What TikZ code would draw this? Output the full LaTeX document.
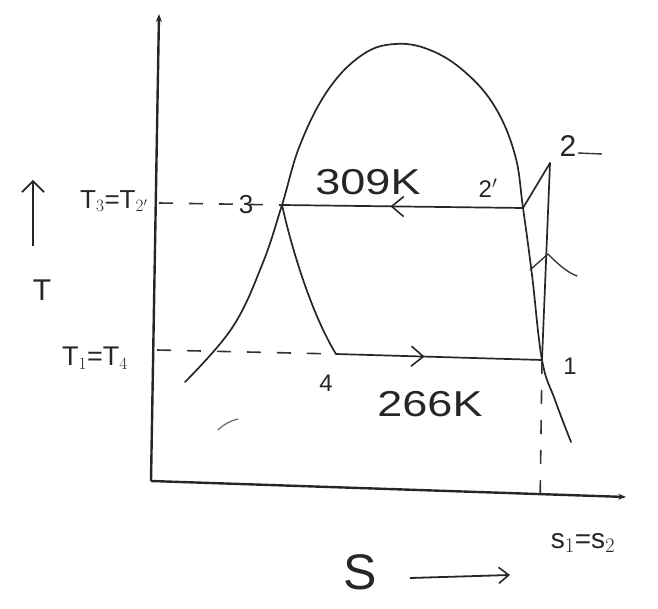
\documentclass[tikz,border=0pt]{standalone}
\usepackage{fontspec}
\setmainfont{Liberation Sans}
\usetikzlibrary{arrows.meta,decorations.markings}
\tikzset{
  curve/.style={line width=1.7pt, black!85, line cap=round, line join=round},
  axis/.style={line width=2.4pt, black!85, -{Stealth[length=8pt,width=6pt]}},
  dashline/.style={line width=1.6pt, black!80, dash pattern=on 14pt off 16pt},
  lbl/.style={inner sep=0pt, black!85},
  midarrow/.style={postaction={decorate,decoration={markings,
      mark=at position #1 with {\arrow{Straight Barb[length=12pt,width=20pt,line width=1.6pt]}}}}}
}
\begin{document}
\begin{tikzpicture}[x=1pt,y=-1pt]
\useasboundingbox (0,0) rectangle (658,609);
% points
\coordinate (o) at (151,481);
\coordinate (ytop) at (159,14);
\coordinate (xend) at (626,497);
\coordinate (p3) at (282,205);
\coordinate (p2p) at (523,208);
\coordinate (p2) at (550,163);
\coordinate (p1) at (542,360);
\coordinate (p4) at (336,354);
\coordinate (t3) at (159,203);
\coordinate (t1) at (157,350);
\coordinate (sbot) at (540,506);
% axes
\draw[axis] (o) -- (ytop);
\draw[axis] (o) -- (xend);
% saturation dome
\draw[curve] plot[smooth, tension=0.65] coordinates
  {(185,382) (232,328) (262,265) (p3) (300,145) (328,90) (362,55) (395,44) (430,50) (465,72) (495,107) (515,155) (p2p) (532,275) (p1) (555,400) (571,442)};
% process lines
\draw[curve] (p3) .. controls (292,250) and (312,315) .. (p4);
\draw[curve, midarrow=0.55] (p2p) -- (p3);
\draw[curve, midarrow=0.43] (p4) -- (p1);
\draw[curve] (p2p) -- (p2);
\draw[curve] (p2) -- (p1);
% small mark on 1-2 line
\draw[line width=1.3pt, black!80, line cap=round] (530,270) -- (548,254) .. controls (556,262) and (566,272) .. (577,276);
% dashed projections
\draw[dashline] (t3) -- (p3);
\draw[dashline] (t1) -- (p4);
\draw[dashline] (p1) -- (sbot);
% stray mark
\draw[line width=1.2pt, black!60, line cap=round] (218,430) .. controls (224,424) and (230,421) .. (238,419);
% labels
\node[lbl, font=\fontsize{26}{26}\selectfont] (lt3) at (114,201) {T$_3$=T$_{2'}$};
\node[lbl, font=\fontsize{27}{27}\selectfont] (lt1) at (95,358) {T$_1$=T$_4$};
\node[lbl, font=\fontsize{30}{30}\selectfont] (lT) at (42,290) {T};
\coordinate (ua) at (33,246);
\coordinate (ub) at (33,180);
\draw[line width=1.8pt, black!85, -{Straight Barb[length=11pt,width=22pt,line width=1.7pt]}] (ua) -- (ub);
\node[lbl, font=\fontsize{26}{26}\selectfont] (l3) at (246,205) {3};
\node[lbl, font=\fontsize{36}{36}\selectfont] (l309) at (368,182) {\scalebox{1.25}[1]{309K}};
\node[lbl, font=\fontsize{24}{24}\selectfont] (l2p) at (488,188) {2$'$};
\node[lbl, font=\fontsize{30}{30}\selectfont] (l2) at (568,146) {2};
\draw[line width=1.4pt, black!80] (578,153) -- (602,154);
\node[lbl, font=\fontsize{24}{24}\selectfont] (l1) at (570,366) {1};
\node[lbl, font=\fontsize{24}{24}\selectfont] (l4) at (326,383) {4};
\node[lbl, font=\fontsize{36}{36}\selectfont] (l266) at (430,404) {\scalebox{1.25}[1]{266K}};
\node[lbl, font=\fontsize{28}{28}\selectfont] (ls) at (583,543) {s$_1$=s$_2$};
\node[lbl, font=\fontsize{50}{50}\selectfont] (lS) at (360,572) {S};
\coordinate (sa) at (410,578);
\coordinate (sb) at (510,575);
\draw[line width=1.8pt, black!85, -{Straight Barb[length=10pt,width=16pt,line width=1.6pt]}] (sa) -- (sb);
\end{tikzpicture}
\end{document}
